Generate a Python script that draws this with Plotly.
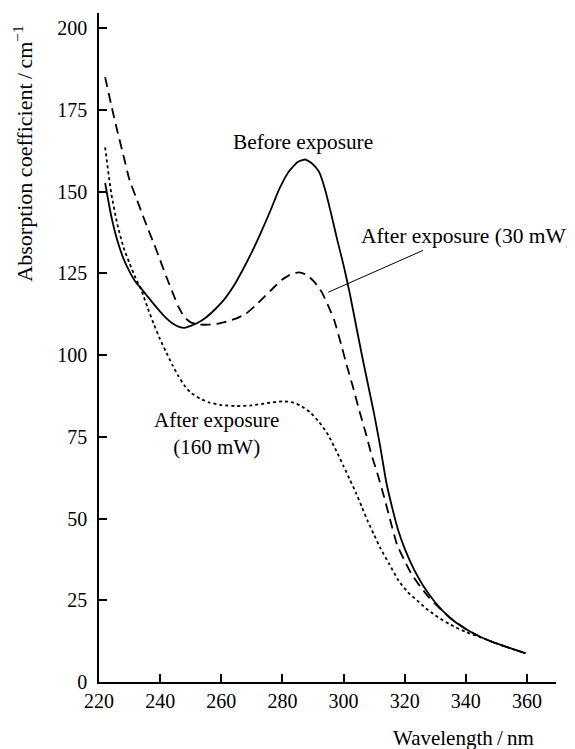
import plotly.graph_objects as go

# ---- data ----
before_wl = [222, 224, 226, 228, 230, 232, 234, 236, 238, 240, 242, 244, 246, 248, 250, 252, 255, 258,
             261, 264, 267, 270, 273, 276, 279, 282, 285, 287.5, 290, 292, 294, 296, 298, 300, 302, 304,
             306, 308, 310, 312, 314, 316, 318, 320, 323, 326, 330, 335, 340, 345, 350, 355, 359.5]
before_val = [152.6, 142.5, 135, 129.5, 125.5, 122.3, 120.1, 117.8, 115.5, 113.3, 111.3, 109.7, 108.7,
              108.3, 108.9, 109.7, 111.5, 114, 117, 121, 126, 131.5, 137.5, 144, 150.8, 156, 159, 159.8,
              158.3, 156, 150.5, 143, 135, 127.5, 119, 109.5, 100, 91, 82, 72, 61, 53, 46, 40.8, 34.5, 29.5,
              24.3, 19.5, 16.2, 13.7, 11.8, 10.2, 8.8]

mw30_wl = [222, 224, 226, 228, 230, 232, 234, 236, 238, 240, 242, 244, 246, 248, 250, 253, 256, 259, 262,
           265, 268, 271, 274, 277, 280, 283, 285.5, 288, 290.5, 293, 295, 297, 299, 301, 303, 305, 307,
           309, 311, 313, 315, 317.5, 320, 322, 325, 328, 332, 335, 340, 345, 350, 355, 359.5]
mw30_val = [185, 176.5, 168.5, 161, 153.5, 148.5, 143.5, 138.6, 134, 129, 124, 119.3, 114.7, 111.5, 110,
            109.3, 109.3, 109.6, 110.3, 111.2, 112.6, 115, 117.7, 120.5, 123.1, 124.8, 125.3, 124.5, 122.3,
            119, 115, 110.5, 104, 97, 90.5, 83.5, 77, 70, 64, 57.5, 50.5, 42, 37, 33.4, 29.3, 25.8, 22,
            19.5, 16.2, 13.7, 11.8, 10.2, 8.8]

mw160_wl = [222, 224, 226, 228, 230, 232, 234, 236, 238, 240, 242, 244, 246, 248, 250, 253, 256, 260, 265,
            270, 275, 280, 283, 286, 289, 292, 295, 298, 300, 302, 304, 306, 308, 310, 312, 315, 318, 321,
            324, 327, 330, 335, 340, 345, 350, 355, 359.5]
mw160_val = [163.5, 149.5, 140, 133, 128, 123.5, 119.5, 114.2, 109.3, 104.8, 100.8, 97, 93.5, 90.6, 88.5,
             86.7, 85.5, 84.7, 84.4, 84.6, 85.3, 85.8, 85.6, 84.5, 82.5, 79.5, 75.5, 70, 66, 62, 58, 53.5,
             49, 45, 41, 36, 31, 27.5, 25, 22.5, 20.4, 17.5, 15.3, 13.6, 11.8, 10.2, 8.8]

x_ticks = [220, 240, 260, 280, 300, 320, 340, 360]
y_ticks = [0, 25, 50, 75, 100, 125, 150, 175, 200]

FONT = "Liberation Serif, Times New Roman, serif"

fig = go.Figure()
line_common = dict(color="black", width=1.8, shape="spline", smoothing=0.5)
fig.add_trace(go.Scatter(x=before_wl, y=before_val, mode="lines",
                         line=dict(**line_common, dash="solid"), name="Before exposure"))
fig.add_trace(go.Scatter(x=mw30_wl, y=mw30_val, mode="lines",
                         line=dict(**line_common, dash="10px,6px"), name="After exposure (30 mW)"))
fig.add_trace(go.Scatter(x=mw160_wl, y=mw160_val, mode="lines",
                         line=dict(**line_common, dash="3px,3px"), name="After exposure (160 mW)"))

# the page body keeps an 8px default margin, so the figure is sized to fit inside it
fig.update_layout(
    width=567, height=741,
    margin=dict(l=91, r=19, t=5, b=67, autoexpand=False),
    paper_bgcolor="white", plot_bgcolor="white",
    showlegend=False,
    font=dict(family=FONT, size=20, color="black"),
    xaxis=dict(range=[220, 369.5], tickvals=x_ticks, ticks="inside", ticklen=8, tickwidth=1.5,
               tickcolor="black", showline=True, linecolor="black", linewidth=1.5, automargin=False,
               showgrid=False, zeroline=False, tickfont=dict(family=FONT, size=20)),
    yaxis=dict(range=[0, 204.6], tickvals=y_ticks, ticks="inside", ticklen=8, tickwidth=1.5,
               tickcolor="black", showline=True, linecolor="black", linewidth=1.5, automargin=False,
               showgrid=False, zeroline=False, tickfont=dict(family=FONT, size=20),
               ticklabelstandoff=6),
)

ann_font = dict(family=FONT, size=21, color="black")
fig.add_annotation(x=286.8, y=165.3, xref="x", yref="y", text="Before exposure",
                   xanchor="center", yanchor="middle",
                   showarrow=False, font=dict(family=FONT, size=21.3, color="black"))
fig.add_annotation(x=340.5, y=136.5, xref="x", yref="y", text="After exposure (30 mW)",
                   xanchor="center", yanchor="middle",
                   showarrow=False, font=dict(family=FONT, size=21.5, color="black"))
fig.add_annotation(x=258.3, y=76.1, xref="x", yref="y", text="After exposure<br>(160 mW)",
                   xanchor="center", yanchor="middle",
                   showarrow=False, font=ann_font)
fig.add_shape(type="line", xref="x", yref="y", x0=326, y0=132, x1=295, y1=119.2,
              line=dict(color="black", width=1))

fig.add_annotation(x=-0.166, y=0.79, xref="paper", yref="paper",
                   xanchor="center", yanchor="middle",
                   text="Absorption coefficient\u2009/\u2009cm<sup>−1</sup>", textangle=-90,
                   showarrow=False, font=dict(family=FONT, size=22, color="black"))
fig.add_annotation(x=0.797, y=-0.083, xref="paper", yref="paper", text="Wavelength\u2009/\u2009nm",
                   xanchor="center", yanchor="middle",
                   showarrow=False, font=dict(family=FONT, size=21, color="black"))

fig.write_html("out.html")
